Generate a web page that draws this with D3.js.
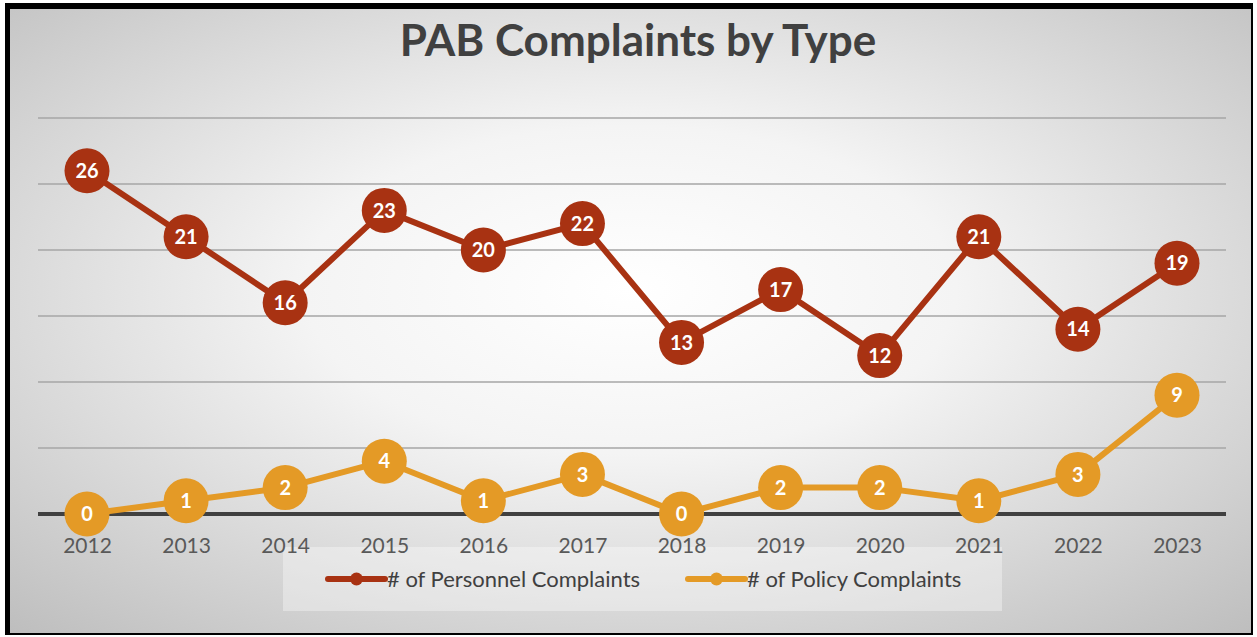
<!DOCTYPE html>
<html>
<head>
<meta charset="utf-8">
<script src="https://cdn.jsdelivr.net/npm/d3@7"></script>
<style>
  body { margin: 0; background: #fff; }
  svg { display: block; font-family: Lato, "Open Sans", sans-serif; }
</style>
</head>
<body>
<div id="wrapper"></div>
<script>
// data
const years = ["2012", "2013", "2014", "2015", "2016", "2017", "2018", "2019", "2020", "2021", "2022", "2023"]
const personnel = [26, 21, 16, 23, 20, 22, 13, 17, 12, 21, 14, 19]
const policy = [0, 1, 2, 4, 1, 3, 0, 2, 2, 1, 3, 9]
const yTicks = [0, 5, 10, 15, 20, 25, 30]

const seriesNames = ["# of Personnel Complaints", "# of Policy Complaints"]
const colors = ["#A83212", "#E49A26"]

const width = 1257
const height = 637
let dimensions = {
    width: width,
    height: height,
    margin: { top: 118, right: 31, bottom: 123, left: 38 },
}
dimensions.boundedWidth = dimensions.width - dimensions.margin.left - dimensions.margin.right
dimensions.boundedHeight = dimensions.height - dimensions.margin.top - dimensions.margin.bottom

const wrapper = d3.select("#wrapper")
    .append("svg")
    .attr("width", dimensions.width)
    .attr("height", dimensions.height)

// background gradient
const defs = wrapper.append("defs")
const grad = defs.append("radialGradient")
    .attr("id", "bg")
    .attr("cx", "50%").attr("cy", "45%")
    .attr("r", "75%")
grad.append("stop").attr("offset", "0%").attr("stop-color", "#ffffff")
grad.append("stop").attr("offset", "35%").attr("stop-color", "#f4f4f4")
grad.append("stop").attr("offset", "100%").attr("stop-color", "#bdbdbd")

// frame: heavy on left/top, thin on right/bottom
wrapper.append("rect")
    .attr("x", 5).attr("y", 3)
    .attr("width", 1248).attr("height", 632)
    .attr("fill", "#000")
wrapper.append("rect")
    .attr("x", 10).attr("y", 9)
    .attr("width", 1241).attr("height", 624)
    .attr("fill", "url(#bg)")

// title
wrapper.append("text")
    .attr("x", 638)
    .attr("y", 56)
    .attr("text-anchor", "middle")
    .attr("font-size", "44px")
    .attr("font-weight", "bold")
    .attr("fill", "#404040")
    .text("PAB Complaints by Type")

// legend box (behind axis labels)
wrapper.append("rect")
    .attr("x", 283).attr("y", 547)
    .attr("width", 719).attr("height", 64)
    .attr("fill", "#ffffff")
    .attr("opacity", 0.35)

const bounds = wrapper.append("g")
    .attr("transform", `translate(${dimensions.margin.left},${dimensions.margin.top})`)

const xScaler = d3.scalePoint()
    .domain(years)
    .range([49, dimensions.boundedWidth - 49])

const yScaler = d3.scaleLinear()
    .domain([0, 30])
    .range([dimensions.boundedHeight, 0])

// gridlines
bounds.append("g")
    .selectAll("line")
    .data(yTicks.filter(d => d > 0))
    .enter()
    .append("line")
    .attr("x1", 0)
    .attr("x2", dimensions.boundedWidth)
    .attr("y1", d => yScaler(d))
    .attr("y2", d => yScaler(d))
    .attr("stroke", "#a6a6a6")
    .attr("stroke-width", 1.3)

// x axis
const xAxisGen = d3.axisBottom(xScaler).tickSize(0).tickPadding(24)
const xAxis = bounds.append("g")
    .attr("transform", `translate(0,${dimensions.boundedHeight})`)
    .call(xAxisGen)
xAxis.select(".domain").remove()
xAxis.selectAll("text")
    .attr("font-size", "21px")
    .attr("font-family", "Lato, 'Open Sans', sans-serif")
    .attr("fill", "#595959")

bounds.append("line")
    .attr("x1", 0)
    .attr("x2", dimensions.boundedWidth)
    .attr("y1", yScaler(0))
    .attr("y2", yScaler(0))
    .attr("stroke", "#404040")
    .attr("stroke-width", 4)

// series
const allSeries = [personnel, policy]
const lineGen = d3.line()
    .x((d, i) => xScaler(years[i]))
    .y(d => yScaler(d))

allSeries.forEach((vals, s) => {
    bounds.append("path")
        .datum(vals)
        .attr("d", lineGen)
        .attr("fill", "none")
        .attr("stroke", colors[s])
        .attr("stroke-width", 6)
        .attr("stroke-linejoin", "round")

    const pts = bounds.append("g")
        .selectAll("g")
        .data(vals)
        .enter()
        .append("g")
        .attr("transform", (d, i) => `translate(${xScaler(years[i])},${yScaler(d)})`)
    pts.append("circle")
        .attr("r", 22.5)
        .attr("fill", colors[s])
    pts.append("text")
        .attr("text-anchor", "middle")
        .attr("dy", "0.36em")
        .attr("font-size", "20px")
        .attr("font-weight", "bold")
        .attr("fill", "#fff")
        .text(d => d)
})

// legend
const legendX = [328, 688]
seriesNames.forEach((name, s) => {
    const lg = wrapper.append("g").attr("transform", `translate(${legendX[s]},579)`)
    lg.append("line")
        .attr("x1", 0).attr("x2", 57)
        .attr("stroke", colors[s])
        .attr("stroke-width", 6)
        .attr("stroke-linecap", "round")
    lg.append("circle")
        .attr("cx", 28.5)
        .attr("r", 6.5)
        .attr("fill", colors[s])
    lg.append("text")
        .attr("x", 59)
        .attr("dy", "0.35em")
        .attr("font-size", "22px")
        .attr("fill", "#404040")
        .text(name)
})
</script>
</body>
</html>
